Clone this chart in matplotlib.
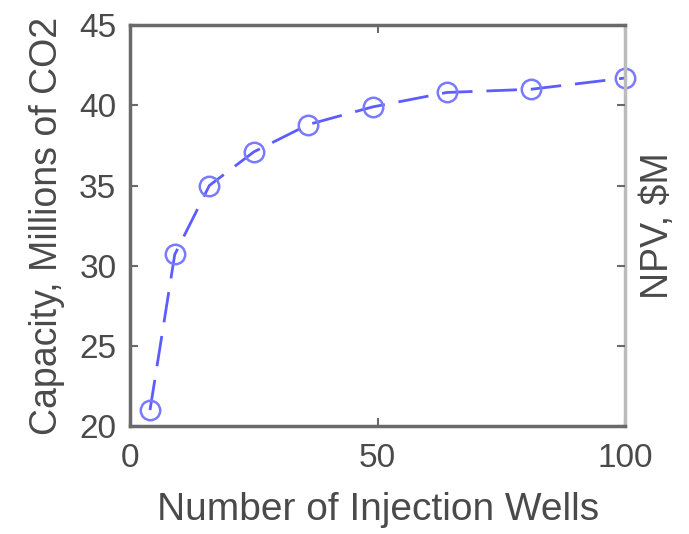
import matplotlib
matplotlib.use("Agg")
from matplotlib import pyplot as plt

# 数据
wells = [4, 9, 16, 25, 36, 49, 64, 81, 100]
capacity = [21.0, 30.7, 35.0, 37.1, 38.8, 39.9, 40.8, 41.0, 41.7]
x_ticks = [0, 50, 100]
y_ticks = [20, 25, 30, 35, 40, 45]

plt.rcParams['font.family'] = ['Liberation Sans', 'DejaVu Sans']
axis_col = '#6a6a6a'
text_col = '#4a4a4a'

fig = plt.figure(figsize=(6.89, 5.34), dpi=100)
ax = fig.add_axes([0.189, 0.202, 0.718, 0.751])

ax.plot(wells, capacity, color='#5c5cff', linestyle=(0, (11, 5)), linewidth=2,
        marker='o', markersize=14, markerfacecolor='none',
        markeredgecolor='#7a7aff', markeredgewidth=1.8, clip_on=False)

ax.set_xlim(0, 100)
ax.set_ylim(20, 45)
ax.set_xticks(x_ticks)
ax.set_yticks(y_ticks)
ax.tick_params(direction='in', length=6, width=1.5, colors=axis_col,
               labelcolor=text_col, labelsize=24, top=True)
ax.tick_params(axis='x', pad=12)
ax.tick_params(axis='y', pad=10)
for s in ax.spines.values():
    s.set_color(axis_col)
    s.set_linewidth(2.5)
ax.spines['right'].set_color('#bbbbbb')

ax.set_xlabel('Number of Injection Wells', fontsize=28, color=text_col)
ax.set_ylabel('Capacity, Millions of CO2', fontsize=27, color=text_col)
ax.xaxis.label.set_va('center')
ax.yaxis.label.set_va('center')
ax.xaxis.set_label_coords(0.5, -0.21)
ax.yaxis.set_label_coords(-0.168, 0.5)

# 右侧 NPV 轴（无刻度标签）
ax2 = ax.twinx()
ax2.set_ylim(20, 45)
ax2.set_yticks(y_ticks)
ax2.tick_params(direction='in', length=6, width=1.5, colors=axis_col, labelright=False)
ax2.set_ylabel('NPV, $M', fontsize=27, color=text_col)
ax2.yaxis.label.set_va('center')
ax2.yaxis.set_label_coords(1.067, 0.5)
for s in ax2.spines.values():
    s.set_visible(False)

fig.savefig('out.png', dpi=100)
